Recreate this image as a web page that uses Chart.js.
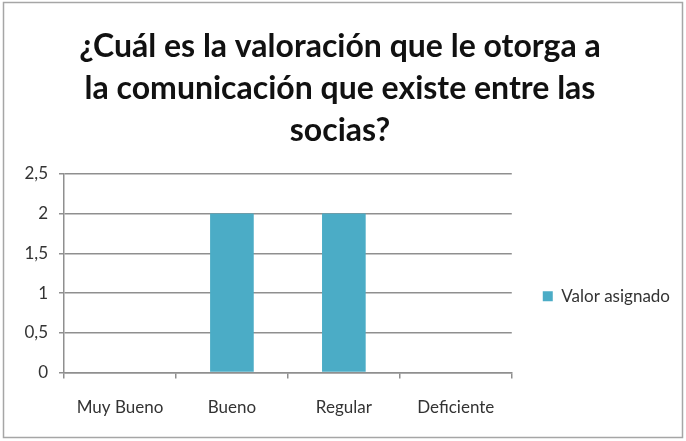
<!DOCTYPE html>
<html lang="es">
<head>
<meta charset="utf-8">
<title>Valoración de la comunicación</title>
<script src="https://cdn.jsdelivr.net/npm/chart.js@4.4.1/dist/chart.umd.min.js"></script>
<style>
  html, body { margin: 0; padding: 0; background: #fff; }
  #wrap { width: 686px; height: 441px; }
</style>
</head>
<body>
<div id="wrap"><canvas id="chart" width="686" height="441"></canvas></div>
<script>
// ===== Datos =====
const categorias = ['Muy Bueno', 'Bueno', 'Regular', 'Deficiente'];
const valores = [0, 2, 2, 0];
const serieNombre = 'Valor asignado';
const titulo = [
  '¿Cuál es la valoración que le otorga a',
  'la comunicación que existe entre las',
  'socias?'
];
const yTicks = [0, 0.5, 1, 1.5, 2, 2.5];

const FONT = 'Lato, "Open Sans", sans-serif';
const GRID = '#8f8f8f';

// marco gris alrededor del gráfico + fondo blanco
const marco = {
  id: 'marco',
  beforeDraw(chart) {
    const c = chart.ctx;
    c.save();
    c.fillStyle = '#fff';
    c.fillRect(0, 0, chart.width, chart.height);
    c.strokeStyle = '#a6a6a6';
    c.lineWidth = 1.5;
    c.strokeRect(3.5, 2.5, chart.width - 7, chart.height - 6);
    c.restore();
  }
};

// baja un poco la leyenda para centrarla como en Excel
const bajarLeyenda = {
  id: 'bajarLeyenda',
  afterLayout(chart) {
    const lg = chart.legend;
    if (!lg) return;
    lg.top += 23;
    lg.bottom += 23;
  }
};

const ctx = document.getElementById('chart').getContext('2d');
new Chart(ctx, {
  type: 'bar',
  data: {
    labels: categorias,
    datasets: [{
      label: serieNombre,
      data: valores,
      backgroundColor: '#4bacc6',
      borderWidth: 0,
      barPercentage: 0.39,
      categoryPercentage: 1
    }]
  },
  options: {
    responsive: false,
    animation: false,
    layout: { padding: { top: 0, right: 6, bottom: 4, left: 0 } },
    plugins: {
      title: {
        display: true,
        text: titulo,
        color: '#111',
        font: { family: FONT, size: 32, weight: 'bold', lineHeight: 1.31 },
        padding: { top: 26, bottom: 22 }
      },
      legend: {
        position: 'right',
        fullSize: false,
        labels: {
          boxWidth: 10,
          boxHeight: 10,
          padding: 31,
          color: '#333',
          font: { family: FONT, size: 17 }
        }
      },
      tooltip: { enabled: false }
    },
    scales: {
      x: {
        grid: {
          display: true,
          drawOnChartArea: false,
          offset: true,
          tickLength: 6,
          color: GRID,
          lineWidth: 1.5
        },
        border: { display: true, color: GRID, width: 1.5 },
        ticks: {
          color: '#333',
          padding: 19,
          font: { family: FONT, size: 17 }
        }
      },
      y: {
        min: 0,
        max: 2.5,
        afterBuildTicks(scale) {
          scale.ticks = yTicks.map(v => ({ value: v }));
        },
        afterFit(scale) { scale.width = 64; },
        grid: {
          color: GRID,
          lineWidth: 1.5,
          tickLength: 5
        },
        border: { display: true, color: GRID, width: 1.5 },
        ticks: {
          color: '#333',
          padding: 11,
          font: { family: FONT, size: 17 },
          callback: v => String(v).replace('.', ',')
        }
      }
    }
  },
  plugins: [marco, bajarLeyenda]
});
</script>
</body>
</html>
